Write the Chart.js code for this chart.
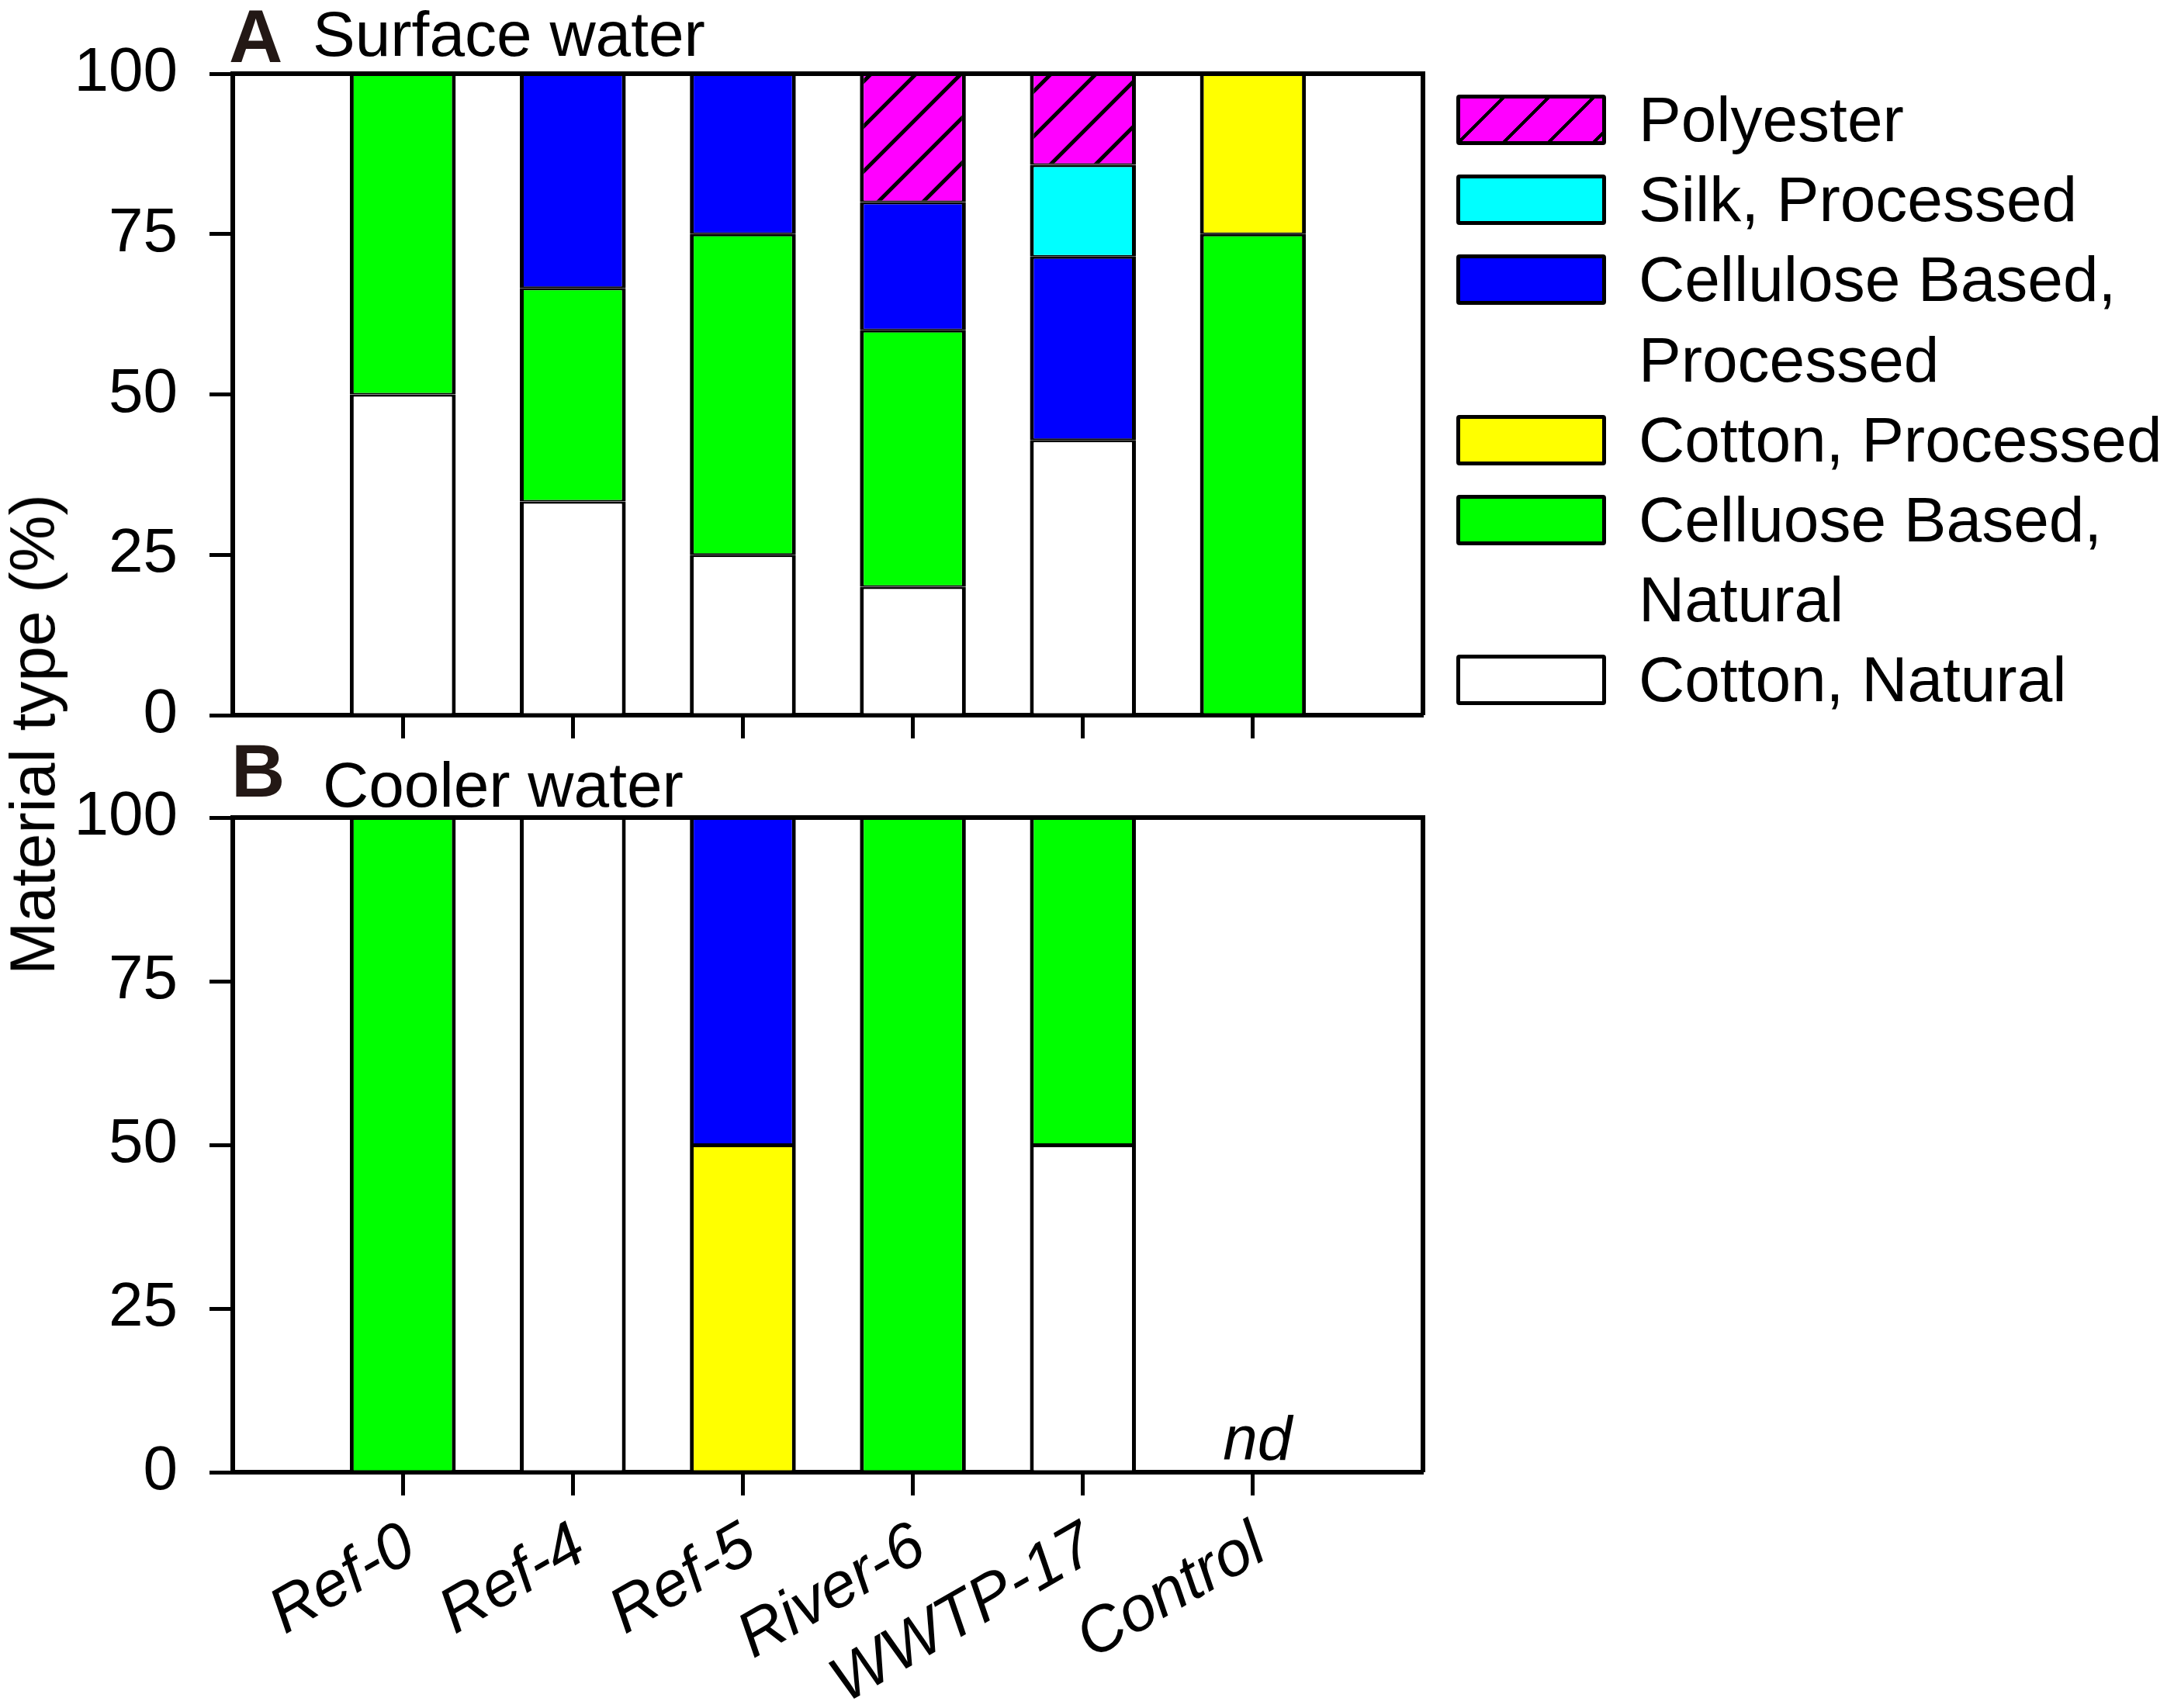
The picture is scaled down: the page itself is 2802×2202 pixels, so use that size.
<!DOCTYPE html>
<html>
<head>
<meta charset="utf-8">
<script src="https://cdn.jsdelivr.net/npm/chart.js@4.4.0/dist/chart.umd.min.js"></script>
<style>
html,body{margin:0;padding:0;background:#fff;}
body{width:2802px;height:2202px;position:relative;overflow:hidden;font-family:'Liberation Sans',Arial,sans-serif;color:#000;}
.abs{position:absolute;white-space:nowrap;line-height:1;}
canvas{position:absolute;left:0;}
.sw{position:absolute;left:1877px;width:193px;height:65px;box-sizing:border-box;border:5px solid #000;border-radius:4px;}
</style>
</head>
<body>
<canvas id="c1" width="1900" height="1000" style="top:0;width:1900px;height:1000px"></canvas>
<canvas id="c2" width="1900" height="1202" style="top:1000px;width:1900px;height:1202px"></canvas>

<div class="abs" style="left:295px;top:-1px;font-size:96px;font-weight:bold;color:#231815">A</div>
<div class="abs" style="left:403px;top:3px;font-size:82px;">Surface water</div>
<div class="abs" style="left:298px;top:946px;font-size:96px;font-weight:bold;color:#231815">B</div>
<div class="abs" style="left:416px;top:971px;font-size:82px;">Cooler water</div>
<div class="abs" style="left:42px;top:947px;font-size:82px;transform:translate(-50%,-50%) rotate(-90deg);">Material type (%)</div>

<div id="legend"></div>

<script>
// ---------- data ----------
const categories = ['Ref-0', 'Ref-4', 'Ref-5', 'River-6', 'WWTP-17', 'Control'];
const materials = ['Cotton, Natural', 'Celluose Based, Natural', 'Cotton, Processed',
                   'Cellulose Based, Processed', 'Silk, Processed', 'Polyester'];
const materialColors = ['#FFFFFF', '#00FF00', '#FFFF00', '#0000FF', '#00FFFF', '#FF00FF'];
const materialHatched = [false, false, false, false, false, true];
const yTicks = [0, 25, 50, 75, 100];

// Panel A: Surface water (%)
const surfaceCottonNatural       = [50, 33.3, 25, 20, 42.9, null];
const surfaceCelluloseNatural    = [50, 33.3, 50, 40, null, 75];
const surfaceCottonProcessed     = [null, null, null, null, null, 25];
const surfaceCelluloseProcessed  = [null, 33.4, 25, 20, 28.6, null];
const surfaceSilkProcessed       = [null, null, null, null, 14.3, null];
const surfacePolyester           = [null, null, null, 20, 14.2, null];

// Panel B: Cooler water (%)
const coolerCottonNatural        = [null, 100, null, null, 50, null];
const coolerCelluloseNatural     = [100, null, null, 100, 50, null];
const coolerCottonProcessed      = [null, null, 50, null, null, null];
const coolerCelluloseProcessed   = [null, null, 50, null, null, null];
const coolerSilkProcessed        = [null, null, null, null, null, null];
const coolerPolyester            = [null, null, null, null, null, null];
const coolerNotDetected          = ['Control'];

// legend (top to bottom), lines of text
const legendOrder = [5, 4, 3, 2, 1, 0];
const legendText = {
  5: ['Polyester'],
  4: ['Silk, Processed'],
  3: ['Cellulose Based,', 'Processed'],
  2: ['Cotton, Processed'],
  1: ['Celluose Based,', 'Natural'],
  0: ['Cotton, Natural']
};

// ---------- helpers ----------
Chart.defaults.font.family = "'Liberation Sans', Arial, sans-serif";
Chart.defaults.color = '#000';

function hatchPattern(ctx) {
  const s = 58;
  const c = document.createElement('canvas');
  c.width = s; c.height = s;
  const g = c.getContext('2d');
  g.fillStyle = '#FF00FF';
  g.fillRect(0, 0, s, s);
  g.strokeStyle = '#000';
  g.lineWidth = 5;
  g.beginPath();
  g.moveTo(-s / 2, s / 2); g.lineTo(s / 2, -s / 2);
  g.moveTo(0, s); g.lineTo(s, 0);
  g.moveTo(s / 2, s * 1.5); g.lineTo(s * 1.5, s / 2);
  g.stroke();
  return ctx.createPattern(c, 'repeat');
}

const padLabels = [''].concat(categories, ['']);
const pad = arr => [null].concat(arr, [null]);

function makeDatasets(ctx, series) {
  return series.map((vals, i) => ({
    label: materials[i],
    data: pad(vals),
    backgroundColor: materialHatched[i] ? hatchPattern(ctx) : materialColors[i],
    borderColor: '#000',
    borderWidth: {top: 3, bottom: 2, left: 5, right: 5},
    borderSkipped: false,
    barPercentage: 0.623,
    categoryPercentage: 1
  }));
}

const framePlugin = {
  id: 'frame',
  afterDraw(chart) {
    const a = chart.chartArea, c = chart.ctx;
    c.save();
    c.strokeStyle = '#000';
    c.lineWidth = 6;
    c.beginPath();
    c.moveTo(a.left, a.top); c.lineTo(a.right, a.top); c.lineTo(a.right, a.bottom);
    c.stroke();
    c.restore();
  }
};

const ndPlugin = {
  id: 'nd',
  afterDatasetsDraw(chart, args, opts) {
    if (!opts.labels) return;
    const xs = chart.scales.x, ys = chart.scales.y, c = chart.ctx;
    c.save();
    c.fillStyle = '#000';
    c.font = "italic 80px 'Liberation Sans', Arial, sans-serif";
    c.textAlign = 'center';
    c.textBaseline = 'alphabetic';
    opts.labels.forEach(l => {
      const idx = padLabels.indexOf(l);
      c.fillText('nd', xs.getPixelForValue(idx) + 6, ys.getPixelForValue(0) - 16);
    });
    c.restore();
  }
};

function zeroPad(s) {
  s.paddingTop = 0; s.paddingBottom = 0; s.paddingLeft = 0; s.paddingRight = 0;
}

function makeOptions(showLabels, xHeight, padTop, ndLabels) {
  return {
    responsive: false,
    animation: false,
    events: [],
    layout: {padding: {left: 0, top: padTop, right: 66, bottom: 0}},
    plugins: {legend: {display: false}, tooltip: {enabled: false}, nd: {labels: ndLabels}},
    scales: {
      x: {
        type: 'category',
        stacked: true,
        offset: false,
        z: 1,
        grid: {
          display: true, offset: false, drawOnChartArea: false, drawTicks: true, tickLength: 30, tickWidth: 5,
          tickColor: ctx => (ctx.index === 0 || ctx.index === padLabels.length - 1) ? 'rgba(0,0,0,0)' : '#000'
        },
        border: {display: true, width: 6, color: '#000'},
        ticks: {
          autoSkip: false,
          maxRotation: showLabels ? 30 : 0,
          minRotation: showLabels ? 30 : 0,
          padding: 17,
          labelOffset: 10,
          color: '#000',
          font: {size: 82, style: 'italic'},
          callback: function (v, i) { return showLabels ? padLabels[i] : ''; }
        },
        afterFit(s) { s.height = xHeight; zeroPad(s); }
      },
      y: {
        stacked: true,
        min: 0,
        max: 100,
        z: 1,
        afterBuildTicks(s) { s.ticks = yTicks.map(v => ({value: v})); },
        grid: {display: true, drawOnChartArea: false, drawTicks: true, tickLength: 30, tickWidth: 5, tickColor: '#000'},
        border: {display: true, width: 6, color: '#000'},
        ticks: {padding: 41, color: '#000', font: {size: 80}},
        afterFit(s) { s.width = 300; zeroPad(s); }
      }
    }
  };
}

// ---------- charts ----------
const ctx1 = document.getElementById('c1').getContext('2d');
new Chart(ctx1, {
  type: 'bar',
  data: {
    labels: padLabels,
    datasets: makeDatasets(ctx1, [surfaceCottonNatural, surfaceCelluloseNatural, surfaceCottonProcessed,
                                  surfaceCelluloseProcessed, surfaceSilkProcessed, surfacePolyester])
  },
  options: makeOptions(false, 78, 95, null),
  plugins: [framePlugin, ndPlugin]
});

const ctx2 = document.getElementById('c2').getContext('2d');
new Chart(ctx2, {
  type: 'bar',
  data: {
    labels: padLabels,
    datasets: makeDatasets(ctx2, [coolerCottonNatural, coolerCelluloseNatural, coolerCottonProcessed,
                                  coolerCelluloseProcessed, coolerSilkProcessed, coolerPolyester])
  },
  options: makeOptions(true, 304, 54, coolerNotDetected),
  plugins: [framePlugin, ndPlugin]
});

// ---------- legend ----------
(function () {
  const lg = document.getElementById('legend');
  const pitch = 103.2, firstCenter = 154.5;
  let row = 0;
  const lines = [];
  legendOrder.forEach(i => {
    const sw = document.createElement('div');
    sw.className = 'sw';
    sw.style.top = (firstCenter + pitch * row - 32.5) + 'px';
    if (materialHatched[i]) {
      sw.style.background = 'repeating-linear-gradient(135deg, ' + materialColors[i] + ' 0 36.5px, #000 36.5px 41px)';
    } else {
      sw.style.background = materialColors[i];
    }
    lg.appendChild(sw);
    legendText[i].forEach(t => lines.push(t));
    row += legendText[i].length;
  });
  const tx = document.createElement('div');
  tx.className = 'abs';
  tx.style.left = '2112px';
  tx.style.top = (firstCenter - 52.5) + 'px';
  tx.style.fontSize = '82px';
  tx.style.lineHeight = pitch + 'px';
  tx.innerHTML = lines.map(l => '<div>' + l + '</div>').join('');
  lg.appendChild(tx);
})();
</script>
</body>
</html>
